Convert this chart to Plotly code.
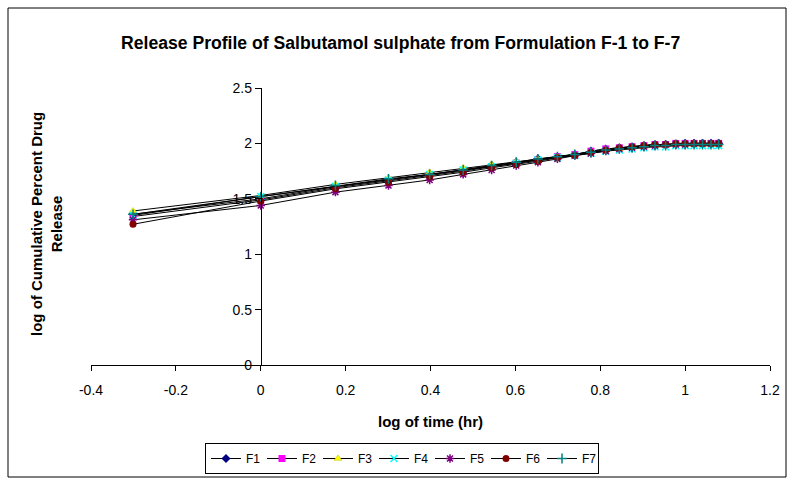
import plotly.graph_objects as go

# log of time (hr) for 0.5 .. 12 hr
log_time = [-0.301, 0.0, 0.176, 0.301, 0.398, 0.477, 0.544, 0.602, 0.653, 0.699, 0.740, 0.778,
            0.813, 0.845, 0.875, 0.903, 0.929, 0.954, 0.978, 1.000, 1.021, 1.041, 1.061, 1.079]

F1 = [1.36, 1.50, 1.61, 1.67, 1.72, 1.76, 1.80, 1.83, 1.86, 1.88, 1.90, 1.93,
      1.95, 1.96, 1.97, 1.98, 1.99, 1.99, 1.99, 2.00, 2.00, 2.00, 2.00, 2.00]
F2 = [1.34, 1.49, 1.60, 1.66, 1.71, 1.75, 1.79, 1.82, 1.85, 1.88, 1.90, 1.93,
      1.95, 1.96, 1.97, 1.98, 1.99, 1.99, 2.00, 2.00, 2.00, 2.00, 2.00, 2.00]
F3 = [1.39, 1.53, 1.63, 1.69, 1.74, 1.78, 1.81, 1.84, 1.86, 1.88, 1.90, 1.92,
      1.94, 1.95, 1.96, 1.97, 1.98, 1.98, 1.99, 1.99, 1.99, 1.99, 1.99, 1.99]
F4 = [1.35, 1.52, 1.61, 1.67, 1.72, 1.76, 1.79, 1.82, 1.85, 1.87, 1.89, 1.91,
      1.93, 1.94, 1.95, 1.96, 1.97, 1.97, 1.98, 1.98, 1.98, 1.98, 1.98, 1.98]
F5 = [1.31, 1.44, 1.56, 1.62, 1.67, 1.72, 1.76, 1.80, 1.83, 1.86, 1.89, 1.91,
      1.93, 1.95, 1.96, 1.97, 1.98, 1.99, 1.99, 1.99, 2.00, 2.00, 2.00, 2.00]
F6 = [1.27, 1.48, 1.59, 1.65, 1.70, 1.74, 1.78, 1.81, 1.84, 1.87, 1.89, 1.92,
      1.94, 1.96, 1.97, 1.98, 1.99, 1.99, 2.00, 2.00, 2.00, 2.00, 2.00, 2.00]
F7 = [1.36, 1.52, 1.62, 1.68, 1.72, 1.76, 1.80, 1.83, 1.86, 1.88, 1.90, 1.92,
      1.94, 1.95, 1.96, 1.97, 1.98, 1.98, 1.99, 1.99, 1.99, 1.99, 1.99, 1.99]

series_names = ["F1", "F2", "F3", "F4", "F5", "F6", "F7"]
series_values = [F1, F2, F3, F4, F5, F6, F7]

x_tick_vals = [-0.4, -0.2, 0, 0.2, 0.4, 0.6, 0.8, 1, 1.2]
x_tick_text = ["-0.4", "-0.2", "0", "0.2", "0.4", "0.6", "0.8", "1", "1.2"]
y_tick_vals = [0, 0.5, 1, 1.5, 2, 2.5]
y_tick_text = ["0", "0.5", "1", "1.5", "2", "2.5"]

styles = [
    dict(symbol="diamond", color="#000080", line=dict(width=0, color="#000080")),
    dict(symbol="square", color="#FF00FF", line=dict(width=0, color="#FF00FF")),
    dict(symbol="triangle-up", color="#FFFF00", line=dict(width=0.5, color="#B8B800")),
    dict(symbol="x-thin-open", color="#00FFFF", line=dict(width=1.5, color="#00FFFF")),
    dict(symbol="asterisk-open", color="#800080", line=dict(width=1.5, color="#800080")),
    dict(symbol="circle", color="#800000", line=dict(width=0, color="#800000")),
    dict(symbol="cross-thin-open", color="#008080", line=dict(width=1.5, color="#008080")),
]

fig = go.Figure()
for name, vals, st in zip(series_names, series_values, styles):
    fig.add_trace(go.Scatter(
        x=log_time, y=vals, name=name, mode="lines+markers",
        line=dict(color="black", width=1),
        marker=dict(symbol=st["symbol"], color=st["color"], size=7, line=st["line"]),
    ))

L, R, T, B = 91, 23, 88, 115
W, H = 793, 480
pw = W - L - R
ph = H - T - B

def px2paper_x(px):
    return (px - L) / pw

def py2paper_y(py):
    return (H - B - py) / ph

font = "Arial, Liberation Sans, sans-serif"

fig.update_layout(
    width=W, height=H,
    margin=dict(l=L, r=R, t=T, b=B, autoexpand=False),
    paper_bgcolor="white", plot_bgcolor="white",
    font=dict(family=font, size=14, color="black"),
    showlegend=True,
    legend=dict(
        orientation="h", x=px2paper_x(402), xanchor="center",
        y=py2paper_y(474), yanchor="bottom", bgcolor="rgba(255,255,255,0)",
        bordercolor="black", borderwidth=1, font=dict(size=12),
        itemwidth=30, tracegroupgap=0,
        entrywidth=11, entrywidthmode="pixels",
    ),
    xaxis=dict(
        range=[-0.4, 1.2], tickvals=x_tick_vals, ticktext=x_tick_text,
        showgrid=False, zeroline=False, showline=True, linecolor="black", linewidth=1,
        ticks="outside", ticklen=5, tickcolor="black", ticklabelstandoff=7,
    ),
    yaxis=dict(
        range=[0, 2.5], tickvals=y_tick_vals, ticktext=y_tick_text,
        showgrid=False, zeroline=False, showline=True, linecolor="black", linewidth=1,
        ticks="outside", ticklen=6, tickcolor="black",
        anchor="free", position=0.25,
    ),
    annotations=[
        dict(text="<b>Release Profile of Salbutamol sulphate from Formulation F-1 to F-7</b>",
             xref="paper", yref="paper", x=px2paper_x(400), y=py2paper_y(43),
             xanchor="center", yanchor="middle", showarrow=False, font=dict(size=17.6)),
        dict(text="<b>log of time (hr)</b>",
             xref="paper", yref="paper", x=px2paper_x(430), y=py2paper_y(421),
             xanchor="center", yanchor="middle", showarrow=False, font=dict(size=15)),
        dict(text="<b>log of Cumulative Percent Drug<br>Release</b>",
             xref="paper", yref="paper", x=px2paper_x(46), y=py2paper_y(224),
             xanchor="center", yanchor="middle", showarrow=False, textangle=-90,
             font=dict(size=15)),
    ],
    shapes=[
        dict(type="rect", xref="paper", yref="paper",
             x0=px2paper_x(8), x1=px2paper_x(786), y0=py2paper_y(477), y1=py2paper_y(8),
             line=dict(color="black", width=1), fillcolor="rgba(0,0,0,0)", layer="below"),
    ],
)

fig.write_html("out.html", config={"displayModeBar": False},
               post_script="document.body.style.margin='0';document.body.style.overflow='hidden';")
